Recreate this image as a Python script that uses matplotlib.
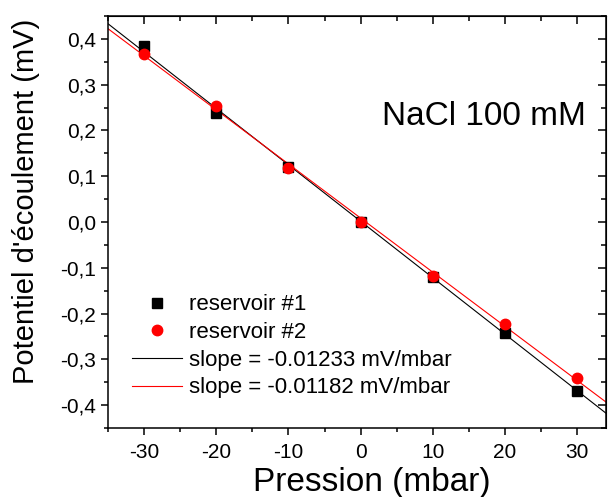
import numpy as np
import matplotlib
matplotlib.use('Agg')
import matplotlib.pyplot as plt
from matplotlib.ticker import MultipleLocator, FuncFormatter

plt.rcParams['font.family'] = ['Liberation Sans', 'DejaVu Sans']
plt.rcParams['axes.unicode_minus'] = False

pression = [-30, -20, -10, 0, 10, 20, 30]
res1 = [0.384, 0.238, 0.120, 0.000, -0.120, -0.242, -0.369]
res2 = [0.368, 0.253, 0.118, 0.000, -0.117, -0.222, -0.340]
slopes = [-0.01233, -0.01182]
intercepts = [0.0016, 0.0086]
fit_range = [-35, 35]

fig = plt.figure(figsize=(6.08, 4.97), dpi=100)
ax = fig.add_axes([0.1776, 0.1388, 0.8191, 0.829])

ax.plot(pression, res1, 's', color='black', ms=7, label='reservoir #1', zorder=3)
ax.plot(pression, res2, 'o', color='red', ms=7.5, label='reservoir #2', zorder=3)
xf = np.array(fit_range)
ax.plot(xf, slopes[0] * xf + intercepts[0], '-', color='black', lw=0.8,
        label=f'slope = {slopes[0]} mV/mbar')
ax.plot(xf, slopes[1] * xf + intercepts[1], '-', color='red', lw=0.8,
        label=f'slope = {slopes[1]} mV/mbar')

ax.set_xlim(-35, 34)
ax.set_ylim(-0.45, 0.45)
ax.xaxis.set_major_locator(MultipleLocator(10))
ax.xaxis.set_minor_locator(MultipleLocator(5))
ax.yaxis.set_major_locator(MultipleLocator(0.1))
ax.yaxis.set_minor_locator(MultipleLocator(0.05))
ax.yaxis.set_major_formatter(FuncFormatter(lambda v, p: f'{v:.1f}'.replace('.', ',').replace('-0,0', '0,0')))

ax.tick_params(which='both', labelsize=15, width=1.1)
ax.tick_params(which='major', length=5)
ax.tick_params(which='minor', length=3)
ax.tick_params(axis='x', pad=6)
for s in ax.spines.values():
    s.set_linewidth(1.1)

# inward ticks on top/right, no labels
top = ax.secondary_xaxis('top')
top.xaxis.set_major_locator(MultipleLocator(10))
top.xaxis.set_minor_locator(MultipleLocator(5))
top.tick_params(which='major', direction='in', length=6, width=1.1, labeltop=False)
top.tick_params(which='minor', direction='in', length=3.5, width=1.1)
right = ax.secondary_yaxis('right')
right.yaxis.set_major_locator(MultipleLocator(0.1))
right.yaxis.set_minor_locator(MultipleLocator(0.05))
right.tick_params(which='major', direction='in', length=6, width=1.1, labelright=False)
right.tick_params(which='minor', direction='in', length=3.5, width=1.1)

ax.set_xlabel('Pression (mbar)', fontsize=24)
ax.xaxis.set_label_coords(0.53, -0.095)
ax.set_ylabel("Potentiel d'écoulement (mV)", fontsize=21)
ax.yaxis.set_label_coords(-0.137, 0.549)

ax.text(0.55, 0.757, 'NaCl 100 mM', transform=ax.transAxes, fontsize=24,
        ha='left', va='center')

ax.legend(loc='center left', bbox_to_anchor=(0.048, 0.198), frameon=False,
          fontsize=16, handlelength=2.25, handletextpad=0.3, labelspacing=0.3,
          borderpad=0, borderaxespad=0)

fig.savefig('out.png', dpi=100)
